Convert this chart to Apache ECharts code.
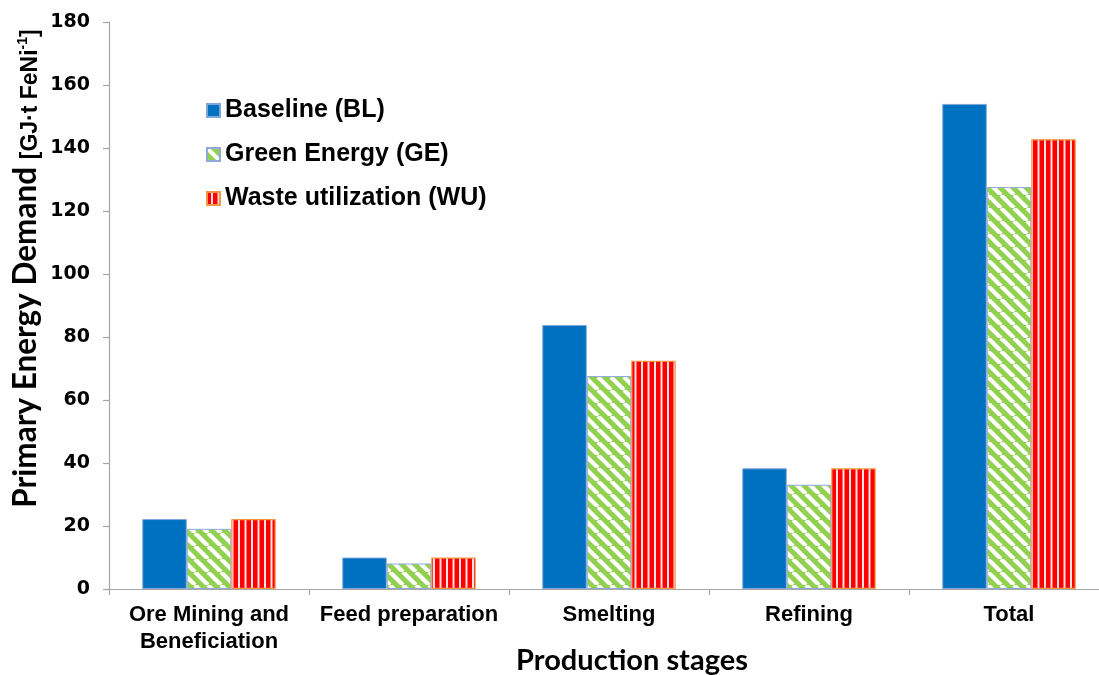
<!DOCTYPE html>
<html>
<head>
<meta charset="utf-8">
<script src="https://cdn.jsdelivr.net/npm/echarts@6/dist/echarts.min.js"></script>
<style>html,body{margin:0;padding:0;background:#fff}#c{width:1099px;height:675px}</style>
</head>
<body>
<div id="c"></div>
<script>
const categories = ['Ore Mining and\nBeneficiation', 'Feed preparation', 'Smelting', 'Refining', 'Total'];
const seriesNames = ['Baseline (BL)', 'Green Energy (GE)', 'Waste utilization (WU)'];
const baseline = [22.2, 10.0, 83.8, 38.3, 154.0];
const greenEnergy = [19.1, 8.1, 67.6, 33.1, 127.6];
const wasteUtil = [22.2, 10.0, 72.5, 38.3, 142.8];
const yTicks = {min: 0, max: 180, interval: 20};

function greenPattern() {
  const s = 13, c = document.createElement('canvas');
  c.width = s; c.height = s;
  const g = c.getContext('2d');
  g.fillStyle = '#92D050'; g.fillRect(0, 0, s, s);
  g.strokeStyle = '#ffffff'; g.lineWidth = 4.2;
  g.beginPath();
  for (let k = -1; k <= 1; k++) { g.moveTo(k * s, 0); g.lineTo(k * s + s, s); }
  g.stroke();
  return c;
}
function redPattern() {
  const c = document.createElement('canvas');
  c.width = 13; c.height = 13;
  const g = c.getContext('2d');
  g.fillStyle = '#FF0000'; g.fillRect(0, 0, 13, 13);
  g.fillStyle = '#ffe2e2';
  g.fillRect(4, 0, 2, 13);
  g.fillRect(10.5, 0, 2, 13);
  return c;
}

const chart = echarts.init(document.getElementById('c'));
const lab = {fontFamily: '"Liberation Sans", Arial, sans-serif', fontWeight: 'bold', color: '#000'};
chart.setOption({
  animation: false,
  backgroundColor: '#fff',
  grid: {left: 109, right: -10, top: 22, bottom: 86, containLabel: false, outerBoundsMode: 'none'},
  legend: {
    orient: 'vertical', left: 206, top: 97, padding: 0,
    itemWidth: 13, itemHeight: 13, itemGap: 17, icon: 'rect',
    textStyle: Object.assign({}, lab, {fontSize: 25, lineHeight: 27})
  },
  xAxis: {
    type: 'category', data: categories,
    axisLine: {lineStyle: {color: '#a6a6a6', width: 1.2}},
    axisTick: {show: true, length: 6, alignWithLabel: false, lineStyle: {color: '#a6a6a6', width: 1.2}},
    axisLabel: Object.assign({}, lab, {fontSize: 22, lineHeight: 27, margin: 12, interval: 0}),
    name: 'Production stages', nameLocation: 'middle', nameGap: 57, nameMoveOverlap: false,
    nameTextStyle: {fontFamily: 'Lato, "Open Sans", sans-serif', fontWeight: 'bold', fontSize: 29, color: '#000', lineHeight: 30, padding: [0, 0, 0, 46]}
  },
  yAxis: {
    type: 'value', min: yTicks.min, max: yTicks.max, interval: yTicks.interval,
    splitLine: {show: false},
    axisLine: {show: true, lineStyle: {color: '#a6a6a6', width: 1.2}},
    axisTick: {show: true, length: 6, lineStyle: {color: '#a6a6a6', width: 1.2}},
    axisLabel: {fontFamily: '"DejaVu Sans", sans-serif', fontWeight: 'bold', color: '#000', fontSize: 19, margin: 19},
    name: '{a|Primary Energy Demand }{b|[GJ·t FeNi}{s|-1}{b|]}',
    nameLocation: 'middle', nameRotate: 90, nameGap: 67, nameMoveOverlap: false,
    nameTextStyle: {
      padding: [0, 0, 0, 74],
      rich: {
        a: {fontFamily: 'Lato, "Open Sans", sans-serif', fontWeight: 'bold', fontSize: 31.5, color: '#000', lineHeight: 34, verticalAlign: 'bottom'},
        b: {fontFamily: '"Liberation Sans", Arial, sans-serif', fontWeight: 'bold', fontSize: 23, color: '#000', lineHeight: 30, verticalAlign: 'bottom'},
        s: {fontFamily: '"Liberation Sans", Arial, sans-serif', fontWeight: 'bold', fontSize: 14, color: '#000', lineHeight: 18, verticalAlign: 'bottom', padding: [0, 0, 12, 0]}
      }
    }
  },
  series: [
    {name: seriesNames[0], type: 'bar', data: baseline, barWidth: 44.5, barGap: '0%',
     itemStyle: {color: '#0070C0', borderColor: '#7fa6d9', borderWidth: 1}},
    {name: seriesNames[1], type: 'bar', data: greenEnergy, barWidth: 44.5, barGap: '0%',
     itemStyle: {color: {image: greenPattern(), repeat: 'repeat'}, borderColor: '#8eaadb', borderWidth: 1}},
    {name: seriesNames[2], type: 'bar', data: wasteUtil, barWidth: 44.5, barGap: '0%',
     itemStyle: {color: {image: redPattern(), repeat: 'repeat'}, borderColor: '#f79646', borderWidth: 1.2}}
  ]
});
</script>
</body>
</html>
